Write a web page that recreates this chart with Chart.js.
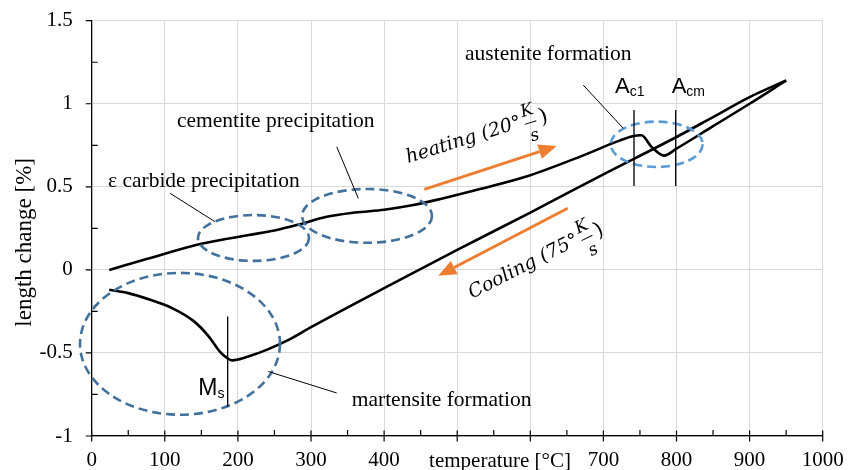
<!DOCTYPE html>
<html>
<head>
<meta charset="utf-8">
<script src="https://cdn.jsdelivr.net/npm/chart.js@4.4.1/dist/chart.umd.min.js"></script>
<style>
  html, body { margin: 0; padding: 0; background: #fff; }
  #wrap { width: 856px; height: 470px; }
</style>
</head>
<body>
<div id="wrap"><canvas id="chart"></canvas></div>
<script>
// dilatometer curve: heating (upper) and cooling (lower)
const heatTemp = [24, 75, 150, 215, 250, 285, 320, 360, 400, 440, 480, 530, 600, 670, 720, 740, 752, 766, 783, 800, 850, 900, 950];
const heatLen  = [0, 0.065, 0.157, 0.21, 0.237, 0.275, 0.318, 0.345, 0.362, 0.39, 0.43, 0.485, 0.57, 0.685, 0.775, 0.805, 0.81, 0.74, 0.688, 0.73, 0.865, 1.0, 1.14];

const coolTemp = [24, 50, 80, 110, 140, 160, 175, 185, 192, 200, 215, 240, 270, 300, 400, 500, 600, 700, 800, 850, 900, 950];
const coolLen  = [-0.12, -0.14, -0.18, -0.23, -0.31, -0.40, -0.49, -0.53, -0.545, -0.54, -0.52, -0.48, -0.42, -0.345, -0.11, 0.12, 0.345, 0.575, 0.80, 0.92, 1.04, 1.14];

const xTicks = [0, 100, 200, 300, 400, 500, 600, 700, 800, 900, 1000];
const xTickLabels = ['0', '100', '200', '300', '400', '', '', '700', '800', '900', '1000'];
const yTicks = [-1, -0.5, 0, 0.5, 1, 1.5];
const yTickLabels = ['-1', '-0.5', '0', '0.5', '1', '1.5'];

const serif = '"Liberation Serif", "Times New Roman", serif';
const sans = '"Liberation Sans", Arial, sans-serif';
const mathFont = '"DejaVu Serif", "Liberation Serif", serif';

// annotation layer, all in data units
const ellipses = [
  { x: 221.3, y: 0.192, rx: 75.9, ry: 0.138, color: '#41719c' },
  { x: 376.6, y: 0.325, rx: 88.9, ry: 0.162, color: '#41719c' },
  { x: 120.8, y: -0.445, rx: 136.8, ry: 0.427, color: '#41719c' },
  { x: 772.9, y: 0.756, rx: 62.9, ry: 0.1365, color: '#5b9bd5' }
];
const leaders = [
  [107.2, 0.461, 168.7, 0.290],
  [335.2, 0.741, 364.7, 0.431],
  [672.5, 1.112, 727.2, 0.852],
  [241.6, -0.612, 335.2, -0.741]
];
const markers = [[186, -0.281, -0.822], [741.9, 0.962, 0.505], [798.9, 0.962, 0.505]];
const notes = [
  { text: 'austenite formation', x: 510.7, y: 1.263 },
  { text: 'cementite precipitation', x: 116.7, y: 0.862 },
  { text: '\u03b5 carbide precipitation', x: 22.3, y: 0.501 },
  { text: 'martensite formation', x: 355.7, y: -0.822 }
];
const subs = [
  { main: 'A', sub: 'c1', x: 715.9, y: 1.0626, size: 22 },
  { main: 'A', sub: 'cm', x: 793.4, y: 1.0626, size: 22 },
  { main: 'M', sub: 's', x: 145.8, y: -0.752, size: 23 }
];
const arrows = [
  [455, 0.485, 636.1, 0.746],
  [651.2, 0.371, 474.1, -0.036]
];
const rates = [
  { main: 'heating (20\u00b0', x: 432.7, y: 0.643, angle: -17.4 },
  { main: 'Cooling (75\u00b0', x: 520.2, y: -0.174, angle: -27 }
];

function drawSub(ctx, s, x, y) {
  ctx.font = s.size + 'px ' + sans;
  ctx.textAlign = 'left';
  ctx.textBaseline = 'alphabetic';
  ctx.fillText(s.main, x, y);
  const w = ctx.measureText(s.main).width;
  ctx.font = Math.round(s.size * 0.62) + 'px ' + sans;
  ctx.fillText(s.sub, x + w, y + 3);
}

function drawRate(ctx, r, x, y) {
  ctx.save();
  ctx.translate(x, y);
  ctx.rotate(r.angle * Math.PI / 180);
  ctx.font = 'italic 19px ' + mathFont;
  ctx.textAlign = 'left';
  ctx.textBaseline = 'alphabetic';
  ctx.fillText(r.main, 0, 0);
  const w = ctx.measureText(r.main).width;
  const cx = w + 9;
  ctx.font = 'italic 17px ' + mathFont;
  ctx.textAlign = 'center';
  ctx.textBaseline = 'middle';
  ctx.fillText('K', cx, -14);
  ctx.fillText('s', cx, 12);
  ctx.lineWidth = 1;
  ctx.beginPath();
  ctx.moveTo(cx - 6, -2);
  ctx.lineTo(cx + 6, -2);
  ctx.stroke();
  ctx.font = '21px ' + mathFont;
  ctx.fillText(')', cx + 14, -3);
  ctx.restore();
}

const annotate = {
  id: 'annotate',
  afterDatasetsDraw(chart) {
    const { ctx, scales: { x, y }, chartArea } = chart;
    const px = v => x.getPixelForValue(v);
    const py = v => y.getPixelForValue(v);
    ctx.save();

    // dashed ellipses
    ctx.lineWidth = 2.6;
    ctx.setLineDash([9, 5]);
    ellipses.forEach(e => {
      ctx.strokeStyle = e.color;
      ctx.beginPath();
      ctx.ellipse(px(e.x), py(e.y), px(e.x + e.rx) - px(e.x), py(e.y) - py(e.y + e.ry), 0, 0, Math.PI * 2);
      ctx.stroke();
    });
    ctx.setLineDash([]);

    // leader lines and marker lines
    ctx.strokeStyle = '#000';
    ctx.lineWidth = 1;
    ctx.beginPath();
    leaders.forEach(l => {
      ctx.moveTo(px(l[0]), py(l[1]));
      ctx.lineTo(px(l[2]), py(l[3]));
    });
    ctx.stroke();
    ctx.lineWidth = 1.3;
    ctx.beginPath();
    markers.forEach(m => {
      ctx.moveTo(px(m[0]), py(m[1]));
      ctx.lineTo(px(m[0]), py(m[2]));
    });
    ctx.stroke();

    // orange arrows
    ctx.strokeStyle = '#ed7d31';
    ctx.fillStyle = '#ed7d31';
    arrows.forEach(a => {
      const x0 = px(a[0]), y0 = py(a[1]), x1 = px(a[2]), y1 = py(a[3]);
      const ang = Math.atan2(y1 - y0, x1 - x0);
      const hl = 18, hw = 7.5;
      const bx = x1 - hl * Math.cos(ang), by = y1 - hl * Math.sin(ang);
      ctx.lineWidth = 3;
      ctx.beginPath();
      ctx.moveTo(x0, y0);
      ctx.lineTo(bx, by);
      ctx.stroke();
      ctx.beginPath();
      ctx.moveTo(x1, y1);
      ctx.lineTo(bx + hw * Math.sin(ang), by - hw * Math.cos(ang));
      ctx.lineTo(bx - hw * Math.sin(ang), by + hw * Math.cos(ang));
      ctx.closePath();
      ctx.fill();
    });

    // text
    ctx.fillStyle = '#000';
    ctx.strokeStyle = '#000';
    ctx.font = '21.5px ' + serif;
    ctx.textAlign = 'left';
    ctx.textBaseline = 'alphabetic';
    notes.forEach(n => ctx.fillText(n.text, px(n.x), py(n.y)));
    subs.forEach(s => drawSub(ctx, s, px(s.x), py(s.y)));
    rates.forEach(r => drawRate(ctx, r, px(r.x), py(r.y)));

    // axis titles
    ctx.font = '21px ' + serif;
    ctx.textAlign = 'center';
    ctx.fillText('temperature [\u00b0C]', px(558.6), 467);
    ctx.save();
    ctx.translate(25, (chartArea.top + chartArea.bottom) / 2 + 14);
    ctx.rotate(-Math.PI / 2);
    ctx.font = '23px ' + serif;
    ctx.textBaseline = 'middle';
    ctx.fillText('length change [%]', 0, 0);
    ctx.restore();

    ctx.restore();
  }
};

const tickMarks = {
  id: 'tickMarks',
  afterDraw(chart) {
    const { ctx, scales: { x, y } } = chart;
    const ax = x.left, ay = y.bottom;
    ctx.save();
    ctx.strokeStyle = '#000';
    ctx.lineWidth = 1.2;
    ctx.beginPath();
    xTicks.forEach((v, i) => {
      const p = x.getPixelForValue(v);
      ctx.moveTo(p, ay - 5.5); ctx.lineTo(p, ay + 5.5);
      if (i < xTicks.length - 1) {
        const m = x.getPixelForValue((v + xTicks[i + 1]) / 2);
        ctx.moveTo(m, ay - 6); ctx.lineTo(m, ay);
      }
    });
    yTicks.forEach((v, i) => {
      const p = y.getPixelForValue(v);
      ctx.moveTo(ax - 6, p); ctx.lineTo(ax, p);
      if (i < yTicks.length - 1) {
        const m = y.getPixelForValue((v + yTicks[i + 1]) / 2);
        ctx.moveTo(ax, m); ctx.lineTo(ax + 6, m);
      }
    });
    ctx.stroke();
    ctx.restore();
  }
};

new Chart(document.getElementById('chart'), {
  type: 'line',
  data: {
    datasets: [
      {
        label: 'heating',
        data: heatTemp.map((t, i) => ({ x: t, y: heatLen[i] })),
        borderColor: '#000',
        borderWidth: 2.6,
        pointRadius: 0,
        cubicInterpolationMode: 'monotone'
      },
      {
        label: 'cooling',
        data: coolTemp.map((t, i) => ({ x: t, y: coolLen[i] })),
        borderColor: '#000',
        borderWidth: 2.6,
        pointRadius: 0,
        cubicInterpolationMode: 'monotone'
      }
    ]
  },
  options: {
    responsive: true,
    maintainAspectRatio: false,
    animation: false,
    layout: { padding: { top: 20.7, right: 33.3, bottom: 0, left: 0 } },
    plugins: { legend: { display: false }, tooltip: { enabled: false } },
    scales: {
      x: {
        type: 'linear',
        min: 0,
        max: 1000,
        afterBuildTicks: s => { s.ticks = xTicks.map(v => ({ value: v })); },
        afterFit: s => { s.height = 34; s.paddingLeft = 0; s.paddingRight = 0; },
        grid: { color: '#d9d9d9', lineWidth: 1, drawTicks: false },
        border: { color: '#000', width: 1.3 },
        ticks: {
          padding: 11.6,
          color: '#000',
          maxRotation: 0,
          autoSkip: false,
          font: { family: serif, size: 21 },
          callback: (v, i) => xTickLabels[i]
        }
      },
      y: {
        min: -1,
        max: 1.5,
        afterBuildTicks: s => { s.ticks = yTicks.map(v => ({ value: v })); },
        afterFit: s => { s.width = 91.7; s.paddingTop = 0; s.paddingBottom = 0; },
        grid: { color: '#d9d9d9', lineWidth: 1, drawTicks: false },
        border: { color: '#000', width: 1.3 },
        ticks: {
          padding: 19,
          color: '#000',
          font: { family: serif, size: 21 },
          callback: (v, i) => yTickLabels[i]
        }
      }
    }
  },
  plugins: [annotate, tickMarks]
});
</script>
</body>
</html>
